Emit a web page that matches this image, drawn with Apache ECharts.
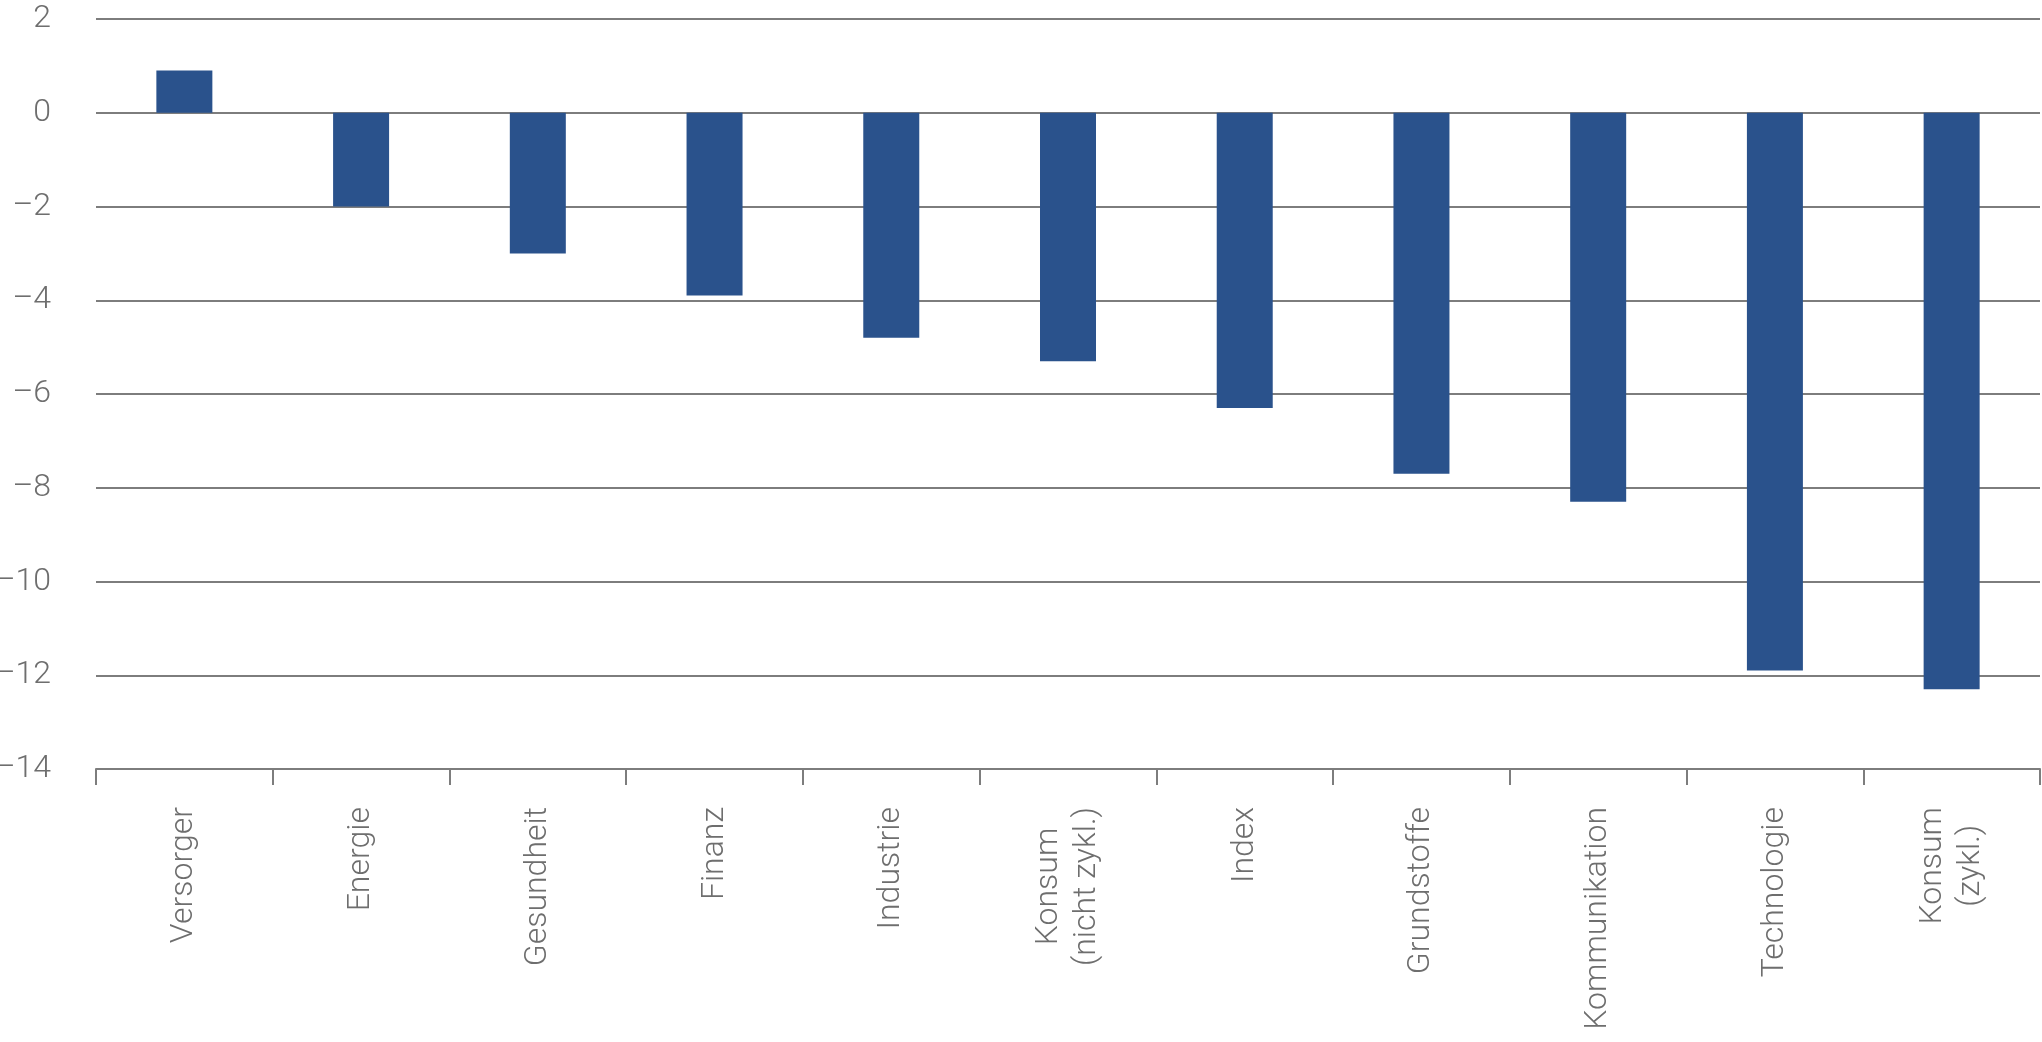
<!DOCTYPE html>
<html>
  <head>
    <meta charset="utf-8">
    <script src="https://cdn.jsdelivr.net/npm/echarts@6/dist/echarts.min.js"></script>
    <style>
      html, body { margin: 0; padding: 0; background: #fff; }
      #chart { width: 2042px; height: 1042px; }
    </style>
  </head>
  <body>
    <div id="chart"></div>
    <script>
      // Sektoren und Werte
      const categories = ['Versorger', 'Energie', 'Gesundheit', 'Finanz', 'Industrie',
        'Konsum\n(nicht zykl.)', 'Index', 'Grundstoffe', 'Kommunikation', 'Technologie', 'Konsum\n(zykl.)'];
      const values = [0.9, -2.0, -3.0, -3.9, -4.8, -5.3, -6.3, -7.7, -8.3, -11.9, -12.3];
      const yTicks = { min: -14, max: 2, step: 2 };

      const textColor = '#6e6e6e';
      const lineColor = '#7d7d7d';
      const font = 'Roboto';

      const chart = echarts.init(document.getElementById('chart'));
      chart.setOption({
        animation: false,
        grid: { left: 96, right: 2, top: 19, bottom: 273, outerBoundsMode: 'none' },
        xAxis: {
          type: 'category',
          data: categories,
          axisLine: { onZero: false, lineStyle: { color: lineColor, width: 2 } },
          axisTick: { show: true, length: 16, lineStyle: { color: lineColor, width: 2 } },
          axisLabel: {
            rotate: 90,
            margin: 38,
            interval: 0,
            formatter: v => v.split('\n').map(s => '{c|' + s + '}').join('\n'),
            rich: {
              c: { align: 'center', fontSize: 32, fontFamily: font, fontWeight: 300, color: textColor, lineHeight: 38 }
            }
          }
        },
        yAxis: {
          type: 'value',
          min: yTicks.min,
          max: yTicks.max,
          interval: yTicks.step,
          axisLine: { show: false },
          axisTick: { show: false },
          splitLine: { lineStyle: { color: lineColor, width: 2 } },
          axisLabel: {
            margin: 45,
            fontSize: 32,
            fontFamily: font,
            fontWeight: 300,
            color: textColor,
            formatter: v => String(v).replace('-', '\u2013')
          }
        },
        series: [{
          type: 'bar',
          data: values,
          barWidth: 56,
          itemStyle: { color: '#2a528c' }
        }]
      });
    </script>
  </body>
</html>
